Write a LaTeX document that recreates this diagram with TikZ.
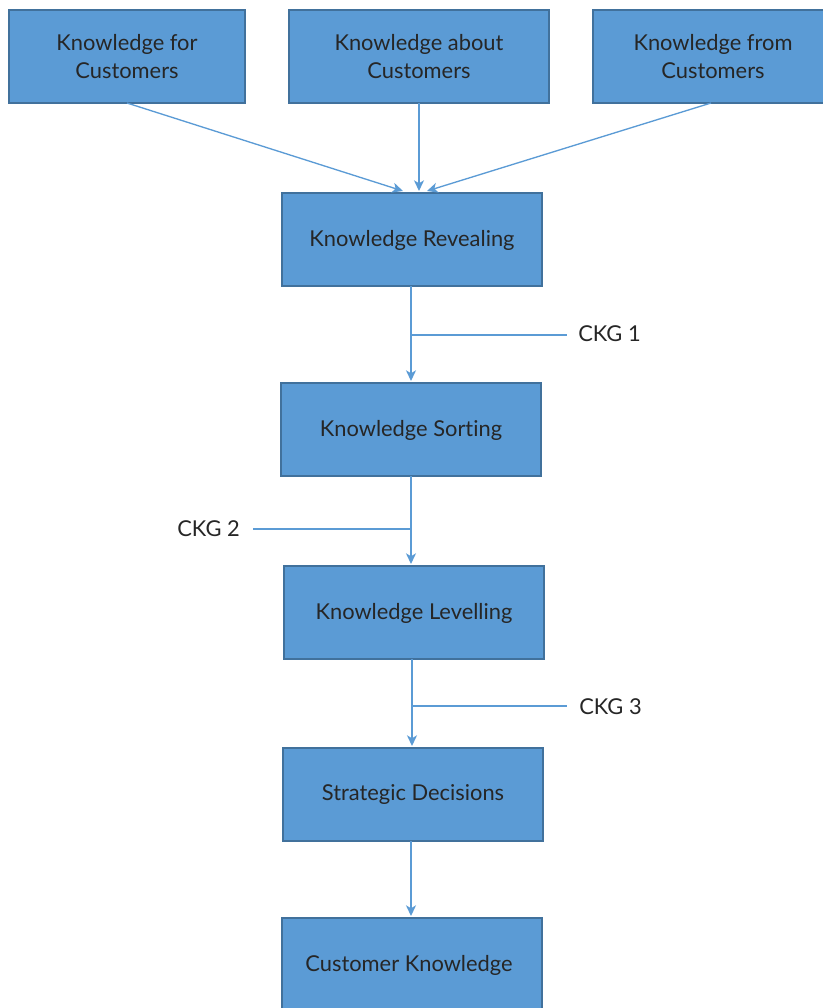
\documentclass[tikz,border=0pt]{standalone}
\usepackage{fontspec}
\setmainfont{Lato}[Ligatures={NoCommon}]
\usetikzlibrary{arrows.meta}
\definecolor{boxfill}{HTML}{5B9BD5}
\definecolor{boxline}{HTML}{41719C}
\definecolor{txt}{HTML}{262626}
\begin{document}
\begin{tikzpicture}[x=0.75pt,y=-0.75pt,
  box/.style={draw=boxline,fill=boxfill,line width=0.9pt},
  lbl/.style={text=txt,font=\fontsize{16.4}{21}\selectfont,align=center,inner sep=0pt},
  conn/.style={draw=boxfill,line width=1pt,-{Stealth[length=8pt,width=7.5pt,inset=2.2pt]}},
  tick/.style={draw=boxfill,line width=1pt}]
\useasboundingbox (0,0) rectangle (823,1008);
% boxes
\draw[box] (9,10) rectangle (245,103);
\node[lbl] (t1) at (127,57) {Knowledge for\\Customers};
\draw[box] (289,10) rectangle (549,103);
\node[lbl] (t2) at (419,57) {Knowledge about\\Customers};
\draw[box] (593,10) rectangle (824,103);
\node[lbl] (t3) at (713,57) {Knowledge from\\Customers};
\draw[box] (282,193) rectangle (542,286);
\node[lbl] (rev) at (412,240) {Knowledge Revealing};
\draw[box] (281,383) rectangle (541,476);
\node[lbl] (sort) at (411,430) {Knowledge Sorting};
\draw[box] (284,566) rectangle (544,659);
\node[lbl] (lev) at (414,613) {Knowledge Levelling};
\draw[box] (283,748) rectangle (543,841);
\node[lbl] (str) at (413,795) {Strategic Decisions};
\draw[box] (282,918) rectangle (542,1012);
\node[lbl] (ck) at (409,965) {Customer Knowledge};
% anchor coordinates
\coordinate (t1b) at (127,103);
\coordinate (t2b) at (419,103);
\coordinate (t3b) at (711,103);
\coordinate (revtl) at (403,191);
\coordinate (revtm) at (419,191);
\coordinate (revtr) at (427,191);
\coordinate (revb) at (411,286);
\coordinate (sortt) at (411,381);
\coordinate (sortb) at (411,476);
\coordinate (levt) at (411,564);
\coordinate (levb) at (412,659);
\coordinate (strt) at (412,746);
\coordinate (strb) at (411,841);
\coordinate (ckt) at (411,916);
\draw[conn] (t1b) -- (revtl);
\draw[conn] (t2b) -- (revtm);
\draw[conn] (t3b) -- (revtr);
\draw[conn] (revb) -- (sortt);
\draw[conn] (sortb) -- (levt);
\draw[conn] (levb) -- (strt);
\draw[conn] (strb) -- (ckt);
% CKG labels
\coordinate (g1a) at (411,335); \coordinate (g1b) at (567,335);
\draw[tick] (g1a) -- (g1b);
\node[lbl,anchor=west] (g1) at (578,334) {CKG 1};
\coordinate (g2a) at (411,529); \coordinate (g2b) at (253,529);
\draw[tick] (g2a) -- (g2b);
\node[lbl,anchor=east] (g2) at (240,529) {CKG 2};
\coordinate (g3a) at (412,706); \coordinate (g3b) at (567,706);
\draw[tick] (g3a) -- (g3b);
\node[lbl,anchor=west] (g3) at (579,707) {CKG 3};
\end{tikzpicture}
\end{document}
